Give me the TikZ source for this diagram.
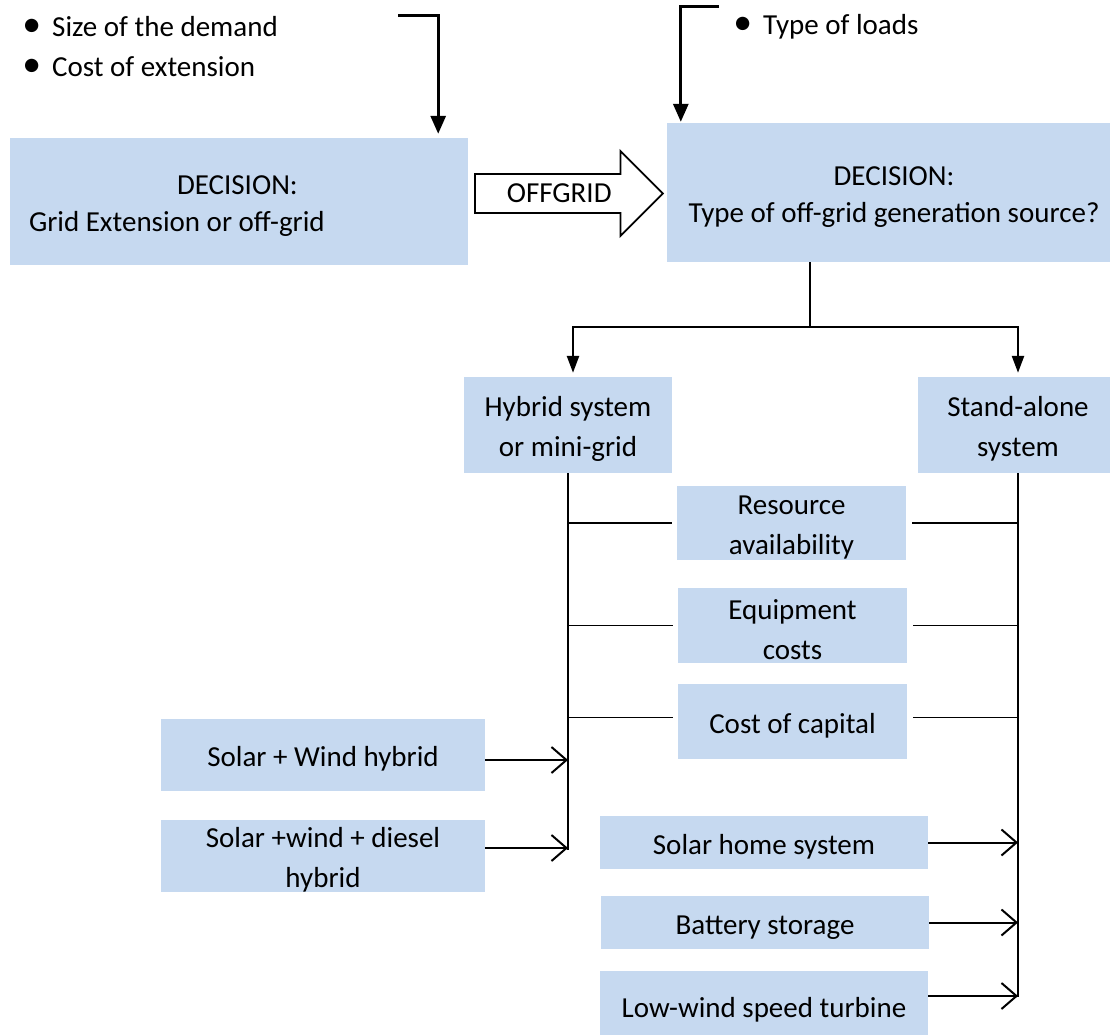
\documentclass[tikz,border=0pt]{standalone}
\usepackage{fontspec}
\setmainfont{Carlito}
\usetikzlibrary{arrows.meta,shapes.arrows}
\definecolor{boxblue}{RGB}{198,217,240}
\newcommand{\boxstrut}{\rule{0pt}{28pt}}

\begin{document}
\begin{tikzpicture}[
    x=1pt, y=-1pt,
    decision/.style={rectangle, fill=boxblue, inner sep=0pt, align=center,
        font=\fontsize{29}{37}\selectfont},
    choice/.style={rectangle, fill=boxblue, inner sep=0pt, align=center,
        font=\fontsize{29}{40}\selectfont},
    bullet/.style={anchor=base west, inner sep=0pt,
        font=\fontsize{29}{40}\selectfont},
    offgrid/.style={single arrow, draw, fill=white, line width=1.8pt,
        minimum height=188pt, minimum width=83pt, single arrow head extend=23pt,
        text height=19pt, text depth=0pt, inner ysep=9pt, inner xsep=4pt,
        font=\fontsize{29}{40}\selectfont},
    feedarrow/.style={draw, line width=3pt, -{Triangle[length=18pt,width=15pt]}},
    brancharrow/.style={draw, line width=2.5pt, -{Triangle[length=17pt,width=12pt]}},
    busline/.style={draw, line width=1.8pt},
    inarrow/.style={draw, line width=2pt, -{Straight Barb[length=15pt,width=26pt]}}
]
\useasboundingbox (0,0) rectangle (1110,1035);

% factors above the decisions
\node (Demand) [bullet] at (52,37) {\llap{\scalebox{1.3}{\textbullet}\hspace{11pt}}Size of the demand};
\node (Extension) [bullet] at (52,77) {\llap{\scalebox{1.3}{\textbullet}\hspace{11pt}}Cost of extension};
\node (Loads) [bullet] at (763,35) {\llap{\scalebox{1.3}{\textbullet}\hspace{11pt}}Type of loads};

% decisions
\node (DecisionGrid) [decision, minimum width=458pt, minimum height=127pt,
    text width=420pt, align=flush left] at (239,201.5)
    {\boxstrut\hspace*{148pt}DECISION:\\Grid Extension or off-grid};
\node (DecisionSource) [decision, minimum width=454pt, minimum height=139pt]
    at (894,192.5) {\boxstrut DECISION:\\Type of off-grid generation source?};
\node (Offgrid) [offgrid, anchor=tail] at (474,193.5) {OFFGRID};

% systems
\node (Hybrid) [choice, minimum width=208pt, minimum height=96pt]
    at (568,425) {\boxstrut Hybrid system\\or mini-grid};
\node (StandAlone) [choice, minimum width=200pt, minimum height=96pt]
    at (1018,425) {\boxstrut Stand-alone\\system};

% criteria
\node (Resource) [choice, minimum width=229pt, minimum height=74pt]
    at (791.5,523) {\boxstrut Resource\\availability};
\node (Equipment) [choice, minimum width=229pt, minimum height=75pt]
    at (792.5,625.5) {\boxstrut Equipment\\costs};
\node (Capital) [choice, minimum width=229pt, minimum height=75pt]
    at (792.5,721.5) {\boxstrut Cost of capital};

% technologies
\node (SolarWind) [choice, minimum width=324pt, minimum height=72pt]
    at (323,755) {\boxstrut Solar + Wind hybrid};
\node (SolarWindDiesel) [choice, minimum width=324pt, minimum height=72pt]
    at (323,856) {\boxstrut Solar +wind + diesel\\hybrid};
\node (SolarHome) [choice, minimum width=328pt, minimum height=53pt]
    at (764,842.5) {\boxstrut Solar home system};
\node (Battery) [choice, minimum width=328pt, minimum height=53pt]
    at (765,922.5) {\boxstrut Battery storage};
\node (LowWind) [choice, minimum width=328pt, minimum height=70pt]
    at (764,1006) {\boxstrut Low-wind speed turbine};

\coordinate (GridFeed) at (398,16);
\coordinate (SourceFeed) at (719,7);
\coordinate (Branch) at (810,327);
\coordinate (HybridBus) at (569,850);
\coordinate (StandBus) at (1018,997);

\draw[feedarrow, shorten >=4pt] (GridFeed) -| ([xshift=-30pt]DecisionGrid.north east);
\draw[feedarrow, shorten >=1pt] (SourceFeed) -| ([xshift=14pt]DecisionSource.north west);

\draw[busline] (DecisionSource.south -| Branch) -- (Branch);
\draw[brancharrow, shorten >=4pt] (Branch) -| ([xshift=5pt]Hybrid.north);
\draw[brancharrow, shorten >=4pt] (Branch) -| (StandAlone.north);

\draw[busline] (Hybrid.south) -- (Hybrid.south |- HybridBus);
\draw[busline] (StandAlone.south) -- (StandAlone.south |- StandBus);

\draw[busline, shorten >=5pt] (Hybrid.south |- Resource) -- (Resource.west);
\draw[busline, shorten >=5pt] (Hybrid.south |- Equipment) -- (Equipment.west);
\draw[busline, shorten >=5pt] ([yshift=4pt]Hybrid.south |- Capital) -- ([yshift=4pt]Capital.west);
\draw[busline, shorten <=6pt] (Resource.east) -- (Resource.east -| StandAlone.south);
\draw[busline, shorten <=6pt] (Equipment.east) -- (Equipment.east -| StandAlone.south);
\draw[busline, shorten <=6pt] ([yshift=4pt]Capital.east) -- ([yshift=4pt]Capital.east -| StandAlone.south);

\draw[inarrow] ([yshift=-5pt]SolarWind.east) -- ([yshift=-5pt]SolarWind.east -| Hybrid.south);
\draw[inarrow] ([yshift=8pt]SolarWindDiesel.east) -- ([yshift=8pt]SolarWindDiesel.east -| Hybrid.south);
\draw[inarrow] (SolarHome.east) -- (SolarHome.east -| StandAlone.south);
\draw[inarrow] (Battery.east) -- (Battery.east -| StandAlone.south);
\draw[inarrow] ([yshift=10pt]LowWind.east) -- ([yshift=10pt]LowWind.east -| StandAlone.south);

\end{tikzpicture}
\end{document}
